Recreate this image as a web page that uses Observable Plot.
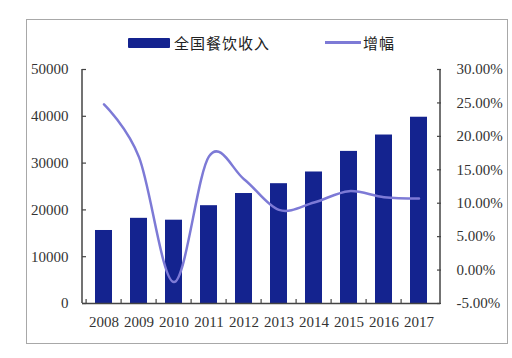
<!DOCTYPE html>
<html><head><meta charset="utf-8">
<script src="https://cdn.jsdelivr.net/npm/d3@7"></script>
<script src="https://cdn.jsdelivr.net/npm/@observablehq/plot@0.6"></script>
<style>
html,body{margin:0;padding:0;background:#fff;}
#wrap{position:relative;width:512px;height:358px;overflow:hidden;background:#fff;}
#frame{position:absolute;left:26px;top:19px;width:480px;height:323px;border:1px solid #a8a8a8;box-sizing:content-box;}
#chart{position:absolute;left:0;top:0;}
.leg{position:absolute;font-family:"Noto Sans CJK SC",sans-serif;font-size:15px;color:#222;letter-spacing:1px;line-height:16px;}
.sw{position:absolute;}
</style></head>
<body><div id="wrap"><div id="frame"></div><div id="chart"></div>
<div class="sw" style="left:128px;top:38px;width:42px;height:10px;background:#14238f;border-radius:1px;"></div>
<div class="leg" style="left:174px;top:35px;">全国餐饮收入</div>
<div class="sw" style="left:325px;top:41px;width:36px;height:3px;background:#7d7ad6;"></div>
<div class="leg" style="left:363px;top:35px;">增幅</div>
</div>
<script>
const years = ["2008","2009","2010","2011","2012","2013","2014","2015","2016","2017"];
const revenue = [15600, 18200, 17800, 20900, 23500, 25600, 28100, 32500, 36000, 39800];
const growth = [24.8, 16.9, -1.8, 17.0, 13.6, 9.0, 10.1, 11.8, 10.9, 10.7];
const leftTicks = [0, 10000, 20000, 30000, 40000, 50000];
const pctTicks = [-5, 0, 5, 10, 15, 20, 25, 30];
const leftMax = 50000, pctMin = -5, pctMax = 30;
const toLeft = p => (p - pctMin) / (pctMax - pctMin) * leftMax;
const fromLeft = v => v / leftMax * (pctMax - pctMin) + pctMin;

const W = 512, H = 358, mL = 82, mR = 72, mT = 69, mB = 55;
const step = (W - mL - mR) / years.length;
const font = "Liberation Serif, serif";
const data = years.map((y, i) => ({year: y, rev: revenue[i], g: growth[i]}));

const chart = Plot.plot({
  width: W, height: H, marginLeft: mL, marginRight: mR, marginTop: mT, marginBottom: mB,
  style: {fontFamily: font, fontSize: "15px", color: "#333", background: "transparent"},
  x: {domain: years, paddingInner: 0.52, paddingOuter: 0.26, label: null},
  y: {domain: [0, leftMax], label: null},
  marks: [
    Plot.barY(data, {x: "year", y: "rev", fill: "#14238f"}),
    Plot.line(data, {x: "year", y: d => toLeft(d.g), curve: "cardinal", stroke: "#7d7ad6", strokeWidth: 2.5}),
    Plot.ruleY([0], {stroke: "#444", strokeWidth: 1.5}),
    Plot.axisY(leftTicks, {anchor: "left", tickSize: 0, tickPadding: 14, tickFormat: d => String(d), label: null, fill: "#333"}),
    Plot.axisY(leftTicks, {anchor: "left", tickSize: 4, dx: 4, text: null, stroke: "#444", strokeWidth: 1.2}),
    Plot.axisY(pctTicks.map(toLeft), {anchor: "right", tickSize: 0, tickPadding: 16, tickFormat: d => fromLeft(d).toFixed(2) + "%", label: null, fill: "#333"}),
    Plot.axisY(pctTicks.map(toLeft), {anchor: "right", tickSize: 4, dx: -4, text: null, stroke: "#444", strokeWidth: 1.2}),
    Plot.axisX({anchor: "bottom", tickSize: 0, tickPadding: 13, label: null, fill: "#333"}),
    Plot.axisX({anchor: "bottom", tickSize: 4, dx: -step / 2, dy: -4, text: null, stroke: "#444", strokeWidth: 1.2})
  ]
});
document.getElementById("chart").appendChild(chart);

// vertical axis lines at the plot edges
const svg = d3.select(chart);
const [x0, x1] = [mL, W - mR];
const ys = chart.scale("y");
svg.append("line").attr("x1", x0).attr("x2", x0).attr("y1", ys.apply(0)).attr("y2", ys.apply(leftMax)).attr("stroke", "#444").attr("stroke-width", 1.5);
svg.append("line").attr("x1", x1).attr("x2", x1).attr("y1", ys.apply(0)).attr("y2", ys.apply(leftMax)).attr("stroke", "#444").attr("stroke-width", 1.5);
</script>
</body></html>
